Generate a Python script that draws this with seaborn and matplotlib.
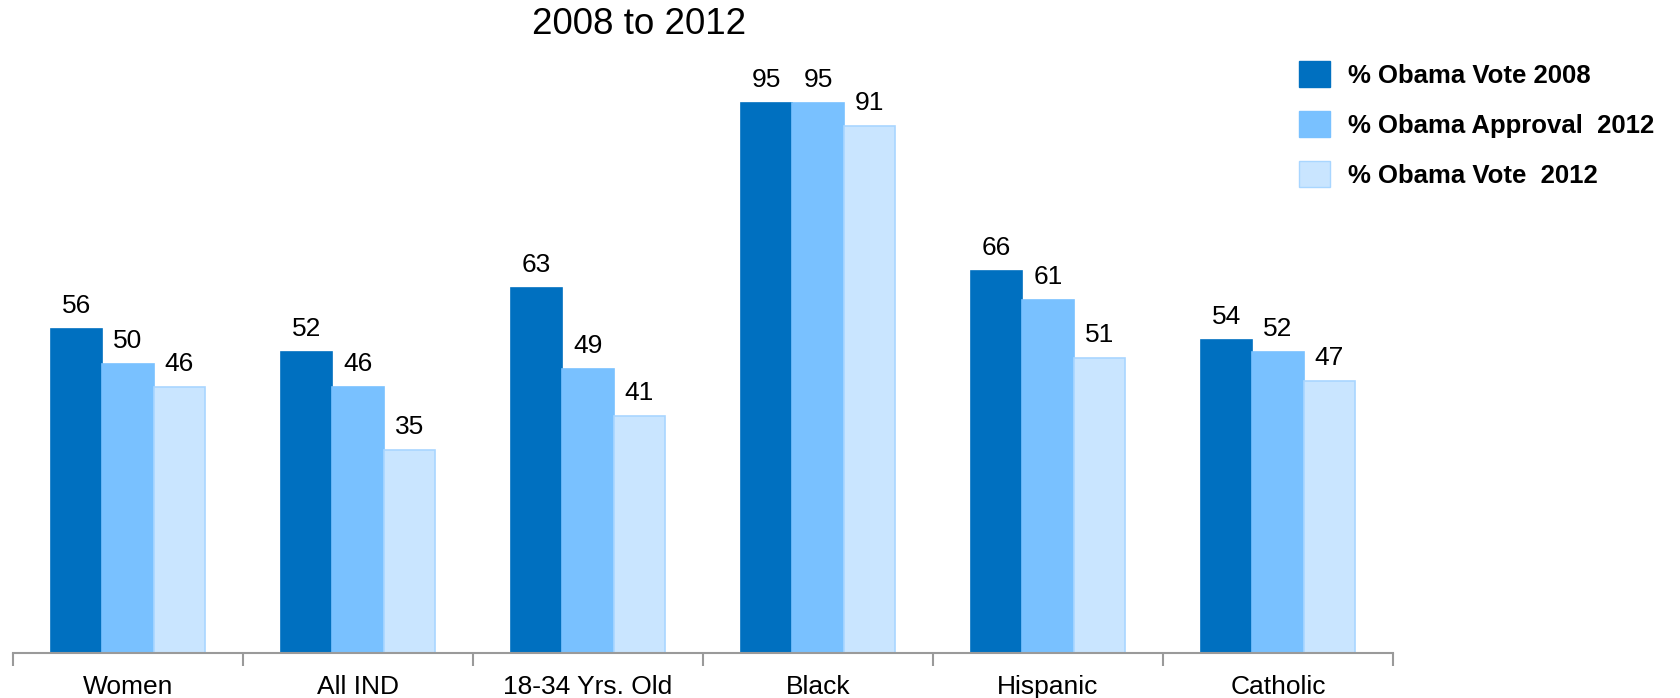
import matplotlib
matplotlib.use("Agg")
import matplotlib.pyplot as plt
import seaborn as sns
import pandas as pd
from matplotlib.patches import Patch

categories = ["Women", "All IND", "18-34 Yrs. Old", "Black", "Hispanic", "Catholic"]
series_names = ["% Obama Vote 2008", "% Obama Approval  2012", "% Obama Vote  2012"]
vote_2008 = [56, 52, 63, 95, 66, 54]
approval_2012 = [50, 46, 49, 95, 61, 52]
vote_2012 = [46, 35, 41, 91, 51, 47]
title = "2008 to 2012"

colors = ["#0070C0", "#79C1FF", "#C9E5FF"]
edges = ["#0070C0", "#79C1FF", "#A9D6FF"]

rows = []
for name, vals in zip(series_names, [vote_2008, approval_2012, vote_2012]):
    for c, v in zip(categories, vals):
        rows.append({"cat": c, "series": name, "val": v})
df = pd.DataFrame(rows)

sns.set_theme(style="white")
plt.rcParams["font.family"] = ["Liberation Sans", "DejaVu Sans"]
plt.rcParams["text.color"] = "black"
plt.rcParams["xtick.color"] = "black"

fig = plt.figure(figsize=(16.8, 6.98), dpi=100)
ax = fig.add_axes([13 / 1680, 45 / 698, 1380 / 1680, 579 / 698])

sns.barplot(data=df, x="cat", y="val", hue="series", order=categories,
            hue_order=series_names, palette=colors, width=0.67, ax=ax,
            legend=False, saturation=1)

for cont, ec in zip(ax.containers, edges):
    for bar in cont:
        bar.set_edgecolor(ec)
        bar.set_linewidth(1.2)
    texts = ax.bar_label(cont, labels=[f"{int(b.get_height())}" for b in cont],
                         padding=0, fontsize=19, color="black")
    for t in texts:
        t.set_verticalalignment("baseline")
        t.xyann = (0, 11.5)

ax.set_ylim(0, 100)
ax.set_xlim(-0.5, len(categories) - 0.5)
ax.set_xlabel("")
ax.set_ylabel("")
ax.set_yticks([])
for s in ["top", "right", "left"]:
    ax.spines[s].set_visible(False)
ax.spines["bottom"].set_color("#9a9a9a")
ax.spines["bottom"].set_linewidth(1.5)

ax.set_xticks(range(len(categories)))
ax.set_xticklabels(categories, fontsize=19, color="black")
ax.tick_params(axis="x", which="major", length=0, pad=16)
ax.set_xticks([i - 0.5 for i in range(len(categories) + 1)], minor=True)
ax.tick_params(axis="x", which="minor", length=9, width=1.5, color="#9a9a9a",
               direction="out", bottom=True)

fig.text(639 / 1680, 1 - 24 / 698, title, fontsize=26.5, ha="center",
         va="center", color="black")

handles = [Patch(facecolor=c, edgecolor=e) for c, e in zip(colors, edges)]
leg = fig.legend(handles, series_names, loc="upper left",
                 bbox_to_anchor=(1299 / 1680, 1 - 61 / 698),
                 bbox_transform=fig.transFigure, frameon=False,
                 prop={"size": 18.5, "weight": "bold"},
                 handlelength=1.2, handleheight=1.17, handletextpad=0.7,
                 labelspacing=0.92, borderpad=0, borderaxespad=0)
for t in leg.get_texts():
    t.set_color("black")

fig.savefig("out.png", dpi=100)
